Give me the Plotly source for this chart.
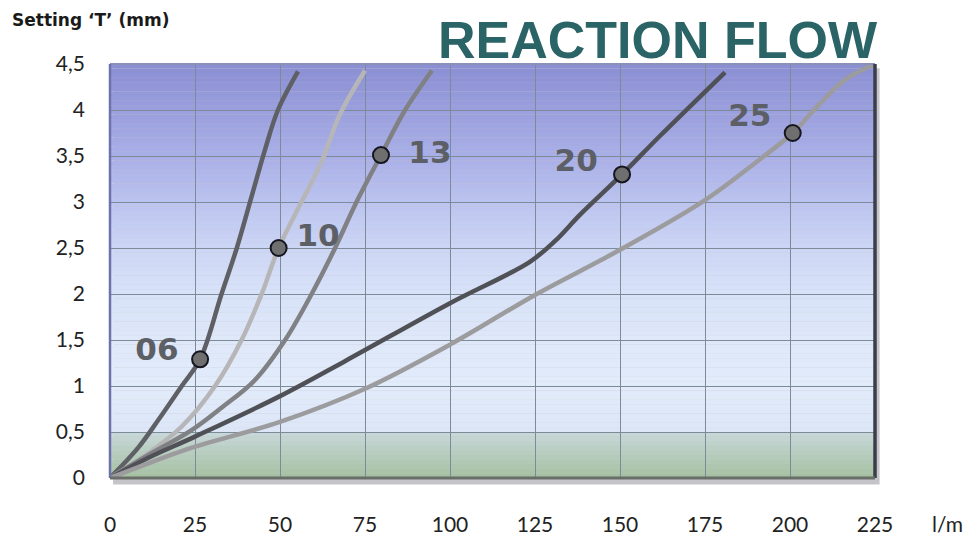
import plotly.graph_objects as go
import numpy as np

# ---------------- data ----------------
x_ticks = [0, 25, 50, 75, 100, 125, 150, 175, 200, 225]
y_ticks = [0, 0.5, 1, 1.5, 2, 2.5, 3, 3.5, 4, 4.5]
y_tick_labels = ["0", "0,5", "1", "1,5", "2", "2,5", "3", "3,5", "4", "4,5"]

c06_x = [0, 8.3, 14.2, 21.1, 26.5, 32.8, 37.3, 41.8, 45.6, 49.4, 55.3]
c06_y = [0, 0.33, 0.63, 1.0, 1.29, 2.0, 2.5, 3.08, 3.57, 4.0, 4.42]

c10_x = [0, 11.3, 21.1, 30.9, 38.7, 44.6, 49.6, 55.9, 61.8, 67.6, 75]
c10_y = [0, 0.27, 0.56, 1.0, 1.5, 2.0, 2.5, 2.97, 3.40, 3.95, 4.43]

c13_x = [0, 11.3, 24, 33, 42.5, 51.5, 59.3, 66.2, 72.5, 79.7, 86.8, 94.7]
c13_y = [0, 0.25, 0.52, 0.77, 1.06, 1.5, 2.0, 2.5, 3.0, 3.51, 4.0, 4.43]

c20_x = [0, 11.3, 25, 50, 69.1, 100, 123.5, 131, 138.2, 150.6, 161.8, 180.9]
c20_y = [0, 0.22, 0.45, 0.89, 1.27, 1.90, 2.35, 2.58, 2.86, 3.30, 3.72, 4.41]

c25_x = [0, 11.3, 25, 50, 75, 100, 125, 150, 175, 191, 200.8, 208.8, 216.2, 224.4]
c25_y = [0, 0.16, 0.34, 0.61, 0.97, 1.45, 1.99, 2.48, 3.02, 3.46, 3.75, 4.07, 4.33, 4.49]

series_names = ["06", "10", "13", "20", "25"]
series_x = [c06_x, c10_x, c13_x, c20_x, c25_x]
series_y = [c06_y, c10_y, c13_y, c20_y, c25_y]

marker_x = [26.5, 49.6, 79.7, 150.6, 200.8]
marker_y = [1.29, 2.5, 3.51, 3.30, 3.75]

label_x = [13.8, 61.2, 94.1, 137.1, 188.2]
label_y = [1.37, 2.61, 3.51, 3.42, 3.91]

# ---------------- style ----------------
line_colors = ["#5e6065", "#b6b6b8", "#808184", "#4f5156", "#9c9c9e"]
line_width = 4.5

fig = go.Figure()

stops = [
    (0.0, "#a4c09f"), (0.5, "#c8d8da"),
    (0.5001, "#dce6f7"), (1.0, "#e2ebfa"), (1.5, "#dfe8f9"),
    (2.0, "#d8e2f8"), (2.5, "#ccd6f5"), (3.0, "#bbc3ef"),
    (3.5, "#a9afe7"), (4.0, "#9a9fdd"), (4.5, "#8a8ed3"),
]


def hex2rgb(h):
    h = h.lstrip("#")
    return np.array([int(h[i:i + 2], 16) for i in (0, 2, 4)], dtype=float)


def color_at(v):
    for (a, ca), (b, cb) in zip(stops[:-1], stops[1:]):
        if a <= v <= b:
            t = (v - a) / (b - a) if b > a else 0
            c = hex2rgb(ca) * (1 - t) + hex2rgb(cb) * t
            return "rgb(%d,%d,%d)" % tuple(np.round(c))
    return stops[-1][1]


shapes = [dict(type="rect", xref="x domain", yref="y domain", x0=0.004, x1=1.006,
               y0=-0.016, y1=0.99, line=dict(width=0), fillcolor="rgba(90,90,100,0.35)",
               layer="below")]
n = 90
edges = np.linspace(0, 4.5, n + 1)
for i in range(n):
    mid = (edges[i] + edges[i + 1]) / 2
    shapes.append(dict(type="rect", xref="x domain", yref="y",
                       x0=0, x1=1, y0=edges[i], y1=edges[i + 1] + 0.002,
                       fillcolor=color_at(mid), line=dict(width=0), layer="below"))

shapes += [
    dict(type="line", xref="x domain", yref="y domain", x0=0, x1=1, y0=1, y1=1,
         line=dict(color="#8a90b8", width=2)),
    dict(type="line", xref="x domain", yref="y domain", x0=0, x1=0, y0=0, y1=1,
         line=dict(color="#6c72ac", width=2.5)),
    dict(type="line", xref="x domain", yref="y domain", x0=1, x1=1, y0=0, y1=1,
         line=dict(color="#3a3e4a", width=3.5)),
    dict(type="line", xref="x domain", yref="y domain", x0=0, x1=1, y0=0, y1=0,
         line=dict(color="#6a6e68", width=3)),
]

for name, xs, ys, col in zip(series_names, series_x, series_y, line_colors):
    fig.add_trace(go.Scatter(x=xs, y=ys, mode="lines", name=name,
                             line=dict(color=col, width=line_width, shape="spline", smoothing=1.0),
                             hoverinfo="skip", showlegend=False))

fig.add_trace(go.Scatter(x=marker_x, y=marker_y, mode="markers", showlegend=False,
                         hoverinfo="skip",
                         marker=dict(size=16, color="#6f6f70",
                                     line=dict(color="#15151f", width=2))))

fig.add_trace(go.Scatter(x=label_x, y=label_y, mode="text", text=series_names,
                         showlegend=False, hoverinfo="skip",
                         textfont=dict(family="DejaVu Sans", size=31, color="#5c6066",
                                       weight="bold")))

annotations = [
    dict(text="REACTION FLOW", xref="paper", yref="paper", x=0.716, y=1.058,
         xanchor="center", yanchor="middle", showarrow=False,
         font=dict(family="Liberation Sans", size=52, color="#2b6466", weight="bold")),
    dict(text="Setting ‘T’ (mm)", xref="paper", yref="paper", x=-0.1307, y=1.106,
         xanchor="left", yanchor="middle", showarrow=False,
         font=dict(family="DejaVu Sans", size=17, color="#1a1a1a", weight="bold")),
    dict(text="l/m", xref="paper", yref="paper", x=1.0954, y=-0.1087,
         xanchor="center", yanchor="middle", showarrow=False,
         font=dict(family="Lato", size=21, color="#222222")),
]

fig.update_layout(
    width=974, height=540,
    margin=dict(l=110, r=99, t=64, b=62),
    paper_bgcolor="white", plot_bgcolor="rgba(0,0,0,0)",
    shapes=shapes, annotations=annotations,
    xaxis=dict(range=[0, 225], tickvals=x_ticks, ticktext=[str(v) for v in x_ticks],
               showgrid=True, gridcolor="#7d8a98", gridwidth=1, zeroline=False,
               showline=False, ticks="", ticklabelstandoff=32, automargin=False,
               tickfont=dict(family="Lato", size=21, color="#222222"), fixedrange=True),
    yaxis=dict(range=[0, 4.5], tickvals=y_ticks, ticktext=y_tick_labels,
               showgrid=True, gridcolor="#7d8a98", gridwidth=1, zeroline=False,
               showline=False, ticks="", ticklabelstandoff=24, automargin=False,
               tickfont=dict(family="Lato", size=21, color="#222222"), fixedrange=True),
)

# remove the browser's default 8px body margin so the figure fills the window
fig.write_html("out.html", config={"displayModeBar": False},
               post_script="document.body.style.margin='0';document.body.style.overflow='hidden';")
